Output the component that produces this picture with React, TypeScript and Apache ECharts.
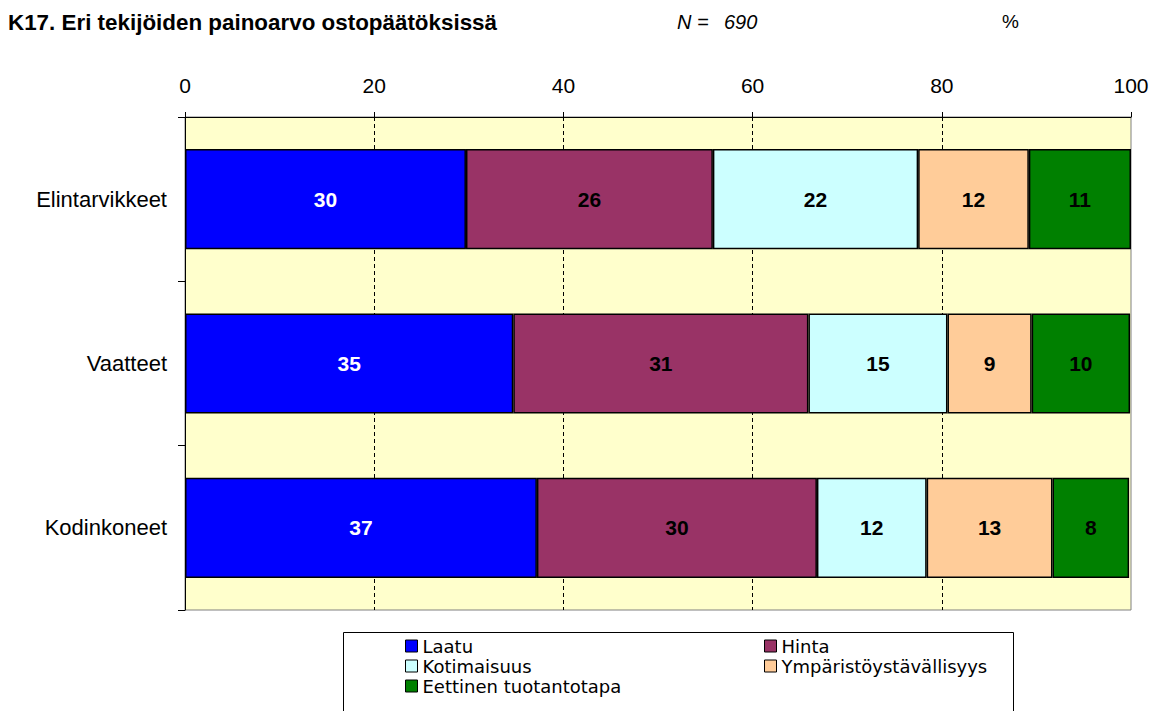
import React, { useEffect, useRef } from "react";
import * as echarts from "echarts";

const categories = ["Elintarvikkeet", "Vaatteet", "Kodinkoneet"];
const seriesNames = ["Laatu", "Hinta", "Kotimaisuus", "Ympäristöystävällisyys", "Eettinen tuotantotapa"];
const laatu = [29.7, 34.7, 37.2];
const hinta = [26.1, 31.2, 29.6];
const kotimaisuus = [21.7, 14.7, 11.6];
const ymparisto = [11.7, 8.9, 13.3];
const eettinen = [10.8, 10.4, 8.1];
const xTicks = [0, 20, 40, 60, 80, 100];

const colors = ["#0000FF", "#993366", "#CCFFFF", "#FFCC99", "#008000"];
const labelColors = ["#FFFFFF", "#000000", "#000000", "#000000", "#000000"];
const FONT = 'Arial, "Liberation Sans", sans-serif';
const LEGEND_FONT = '"DejaVu Sans", Arial, sans-serif';

export default function App() {
  const ref = useRef<HTMLDivElement>(null);
  useEffect(() => {
    if (!ref.current) return;
    const chart = echarts.init(ref.current, null, { renderer: "svg" });
    const allData = [laatu, hinta, kotimaisuus, ymparisto, eettinen];
    const series = seriesNames.map((name, i) => ({
      name,
      type: "bar",
      stack: "total",
      barCategoryGap: "39%",
      data: allData[i],
      itemStyle: { color: colors[i], borderColor: "#000", borderWidth: 1.5 },
      label: {
        show: true,
        position: "inside",
        formatter: (p: any) => String(Math.round(p.value)),
        color: labelColors[i],
        fontWeight: "bold",
        fontSize: 21,
        fontFamily: FONT,
      },
      emphasis: { disabled: true },
    }));
    const legendCommon = {
      orient: "vertical",
      top: 636,
      padding: 0,
      itemGap: 0,
      itemWidth: 12,
      itemHeight: 12,
      icon: "rect",
      selectedMode: false,
      itemStyle: { borderColor: "#000", borderWidth: 1 },
      textStyle: { fontSize: 18, lineHeight: 20, color: "#000", fontFamily: LEGEND_FONT },
    };
    chart.setOption({
      animation: false,
      textStyle: { fontFamily: FONT },
      grid: {
        left: 185,
        top: 117,
        width: 946,
        height: 493,
        show: true,
        backgroundColor: "#FFFFCC",
        borderColor: "#808080",
        borderWidth: 1,
      },
      xAxis: {
        type: "value",
        position: "top",
        min: xTicks[0],
        max: xTicks[xTicks.length - 1],
        interval: 20,
        axisLine: { show: true, lineStyle: { color: "#000", width: 1 } },
        axisTick: { show: true, length: 5, lineStyle: { color: "#000" } },
        axisLabel: { fontSize: 21, color: "#000", margin: 21, fontFamily: FONT },
        splitLine: {
          show: true,
          lineStyle: {
            color: ["rgba(0,0,0,0)", "#000", "#000", "#000", "#000", "rgba(0,0,0,0)"],
            type: [4, 3],
            width: 1,
          },
        },
      },
      yAxis: {
        type: "category",
        inverse: true,
        data: categories,
        axisLine: { show: true, lineStyle: { color: "#000", width: 1 } },
        axisTick: { show: true, length: 7, lineStyle: { color: "#000" } },
        axisLabel: { fontSize: 22, color: "#000", margin: 18, fontFamily: FONT },
        splitLine: { show: false },
      },
      legend: [
        { ...legendCommon, data: [seriesNames[0], seriesNames[2], seriesNames[4]], left: 405 },
        { ...legendCommon, data: [seriesNames[1], seriesNames[3]], left: 764 },
      ],
      graphic: [
        {
          type: "rect",
          shape: { x: 343.5, y: 632.5, width: 670, height: 100 },
          style: { fill: "none", stroke: "#000", lineWidth: 1 },
          silent: true,
        },
        {
          type: "text",
          left: 8,
          top: 11,
          style: {
            text: "K17. Eri tekijöiden painoarvo ostopäätöksissä",
            font: `bold 22.4px ${FONT}`,
            fill: "#000",
          },
        },
        {
          type: "text",
          left: 677,
          top: 12,
          style: { text: "N =", font: `italic 20px ${FONT}`, fill: "#000" },
        },
        {
          type: "text",
          left: 724,
          top: 12,
          style: { text: "690", font: `italic 20px ${FONT}`, fill: "#000" },
        },
        {
          type: "text",
          left: 1002,
          top: 12,
          style: { text: "%", font: `19px ${FONT}`, fill: "#000" },
        },
      ],
      series,
    });
    return () => chart.dispose();
  }, []);
  return (
    <div
      ref={ref}
      style={{ position: "fixed", left: 0, top: 0, width: 1153, height: 711, background: "#fff" }}
    />
  );
}
